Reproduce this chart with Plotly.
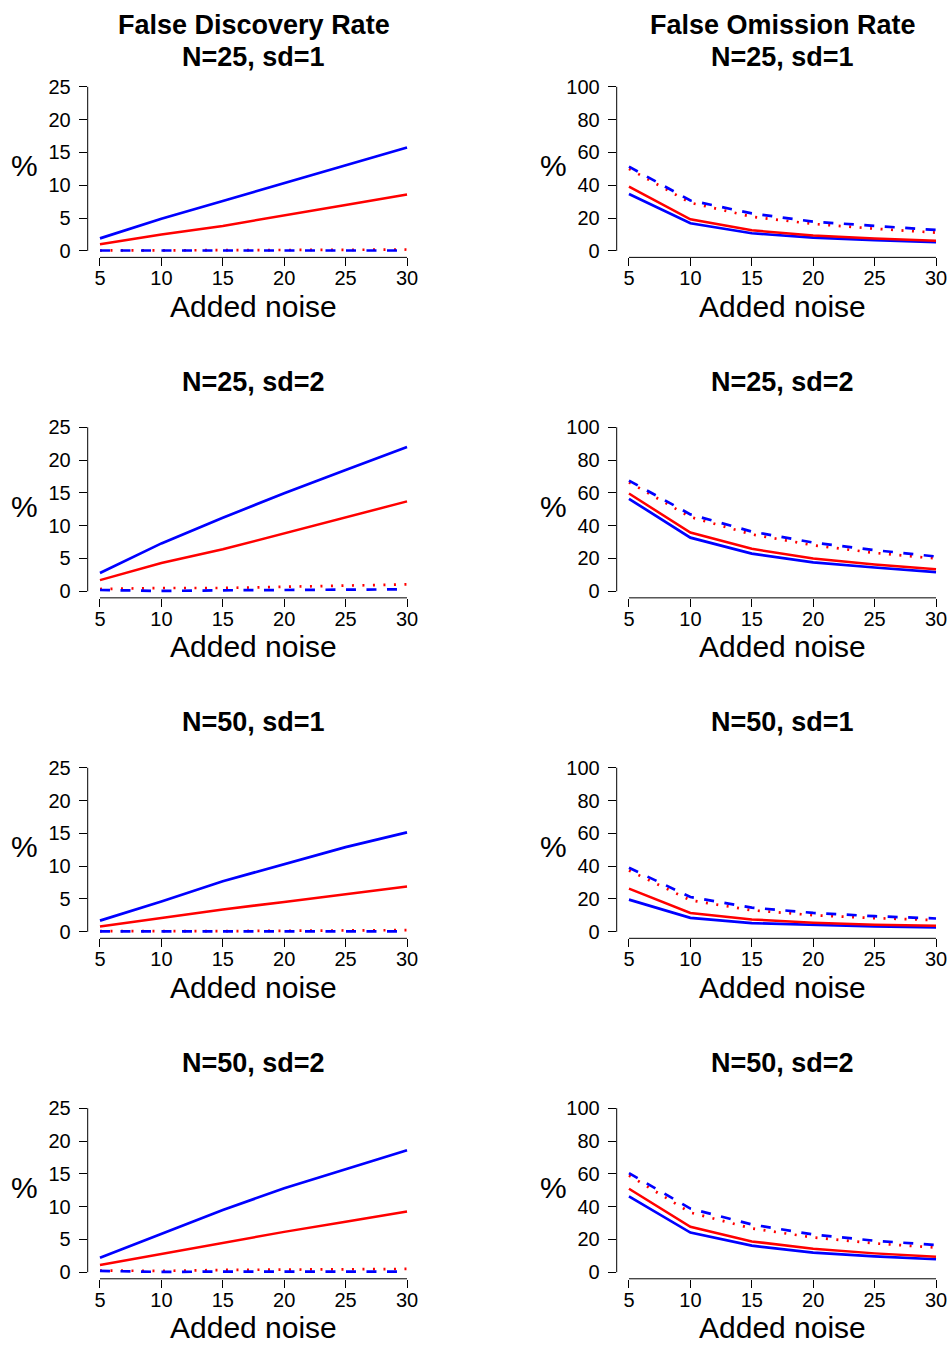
import plotly.graph_objects as go

W, H = 950, 1349

noise = [5, 10, 15, 20, 25, 30]
x_ticks = [5, 10, 15, 20, 25, 30]
fdr_ticks = [0, 5, 10, 15, 20, 25]
for_ticks = [0, 20, 40, 60, 80, 100]

row_titles = ["N=25, sd=1", "N=25, sd=2", "N=50, sd=1", "N=50, sd=2"]
col_titles = ["False Discovery Rate", "False Omission Rate"]

# False Discovery Rate (%) per scenario
fdr_blue_solid = [
    [1.9, 4.9, 7.6, 10.35, 13.0, 15.75],
    [2.8, 7.3, 11.2, 14.95, 18.5, 22.0],
    [1.7, 4.6, 7.7, 10.35, 12.9, 15.15],
    [2.2, 5.9, 9.5, 12.8, 15.75, 18.6],
]
fdr_red_solid = [
    [1.0, 2.5, 3.8, 5.45, 7.0, 8.6],
    [1.7, 4.3, 6.4, 8.8, 11.3, 13.7],
    [0.8, 2.1, 3.4, 4.55, 5.75, 6.9],
    [1.1, 2.8, 4.5, 6.15, 7.7, 9.25],
]
fdr_blue_dashed = [
    [0.05, 0.05, 0.05, 0.05, 0.05, 0.05],
    [0.2, 0.05, 0.15, 0.25, 0.25, 0.3],
    [0.05, 0.0, 0.05, 0.05, 0.05, 0.05],
    [0.2, 0.05, 0.1, 0.1, 0.1, 0.1],
]
fdr_red_dotted = [
    [0.05, 0.05, 0.1, 0.1, 0.15, 0.2],
    [0.35, 0.5, 0.5, 0.7, 0.8, 1.05],
    [0.1, 0.05, 0.1, 0.15, 0.2, 0.25],
    [0.25, 0.2, 0.35, 0.4, 0.45, 0.5],
]

# False Omission Rate (%) per scenario
for_blue_solid = [
    [34.7, 16.8, 10.7, 8.1, 6.5, 5.3],
    [56.4, 32.7, 23.0, 17.6, 14.5, 11.7],
    [19.6, 8.5, 5.25, 4.0, 3.2, 2.6],
    [46.3, 24.2, 16.2, 11.9, 9.7, 7.9],
]
for_red_solid = [
    [39.2, 19.2, 12.5, 9.3, 7.5, 6.1],
    [59.6, 35.8, 25.9, 20.0, 16.4, 13.5],
    [26.3, 11.5, 7.5, 5.5, 4.2, 3.6],
    [50.9, 27.7, 18.8, 14.3, 11.5, 9.5],
]
for_blue_dashed = [
    [51.3, 30.7, 22.8, 17.8, 15.2, 12.7],
    [67.5, 46.9, 36.4, 29.7, 25.1, 21.2],
    [39.0, 21.2, 14.7, 11.5, 9.5, 8.1],
    [60.4, 38.8, 29.1, 23.0, 19.2, 16.6],
]
for_red_dotted = [
    [50.0, 29.3, 20.8, 16.4, 13.5, 11.1],
    [66.5, 45.3, 34.7, 28.1, 23.4, 20.0],
    [37.4, 19.2, 13.1, 10.1, 8.3, 7.1],
    [59.0, 36.4, 26.7, 21.2, 17.6, 15.0],
]

FONT = "Liberation Sans, Arial, sans-serif"
BLUE = "#0000FF"
RED = "#FF0000"

# layout geometry in pixels
col_left = [87.7, 616.7]
col_right = [419.3, 948.3]
row_step = 342.5
reg_top0 = 76.7
reg_bot0 = 254.9
ANN_DY = -3


def px(xp):
    return xp / W


def py(yp):
    return 1 - yp / H


fig = go.Figure()
layout_axes = {}
annotations = []
shapes = []

panels = []
for r in range(4):
    for c in range(2):
        panels.append((r, c))

for i, (r, c) in enumerate(panels):
    n = i + 1
    xa = "x" if n == 1 else f"x{n}"
    ya = "y" if n == 1 else f"y{n}"
    xkey = "xaxis" if n == 1 else f"xaxis{n}"
    ykey = "yaxis" if n == 1 else f"yaxis{n}"

    if c == 0:
        series = [
            (fdr_blue_solid[r], BLUE, "solid", 2.7),
            (fdr_red_solid[r], RED, "solid", 2.5),
            (fdr_red_dotted[r], RED, "2px,8.5px", 2.7),
            (fdr_blue_dashed[r], BLUE, "10px,10.5px", 2.7),
        ]
        yr = [-1, 26]
        yt = fdr_ticks
        ytop = 25
    else:
        series = [
            (for_blue_solid[r], BLUE, "solid", 2.7),
            (for_red_solid[r], RED, "solid", 2.5),
            (for_red_dotted[r], RED, "2px,8.5px", 2.7),
            (for_blue_dashed[r], BLUE, "10px,10.5px", 2.7),
        ]
        yr = [-4, 104]
        yt = for_ticks
        ytop = 100

    for vals, col, dash, w in series:
        fig.add_trace(go.Scatter(
            x=noise, y=vals, mode="lines", xaxis=xa, yaxis=ya,
            line=dict(color=col, dash=dash, width=w),
            showlegend=False, hoverinfo="skip",
        ))

    top = reg_top0 + row_step * r
    bot = reg_bot0 + row_step * r
    layout_axes[xkey] = dict(
        domain=[px(col_left[c]), px(col_right[c])],
        range=[4, 31], anchor=ya,
        tickvals=x_ticks, ticktext=[str(v) for v in x_ticks],
        ticks="outside", ticklen=8, tickwidth=1, tickcolor="black",
        ticklabelstandoff=-5,
        showline=False, showgrid=False, zeroline=False,
        tickfont=dict(family=FONT, size=20, color="black"),
        fixedrange=True,
    )
    layout_axes[ykey] = dict(
        domain=[py(bot), py(top)],
        range=yr, anchor=xa,
        tickvals=yt, ticktext=[str(v) for v in yt],
        ticks="outside", ticklen=8, tickwidth=1, tickcolor="black",
        ticklabelstandoff=4,
        showline=False, showgrid=False, zeroline=False,
        tickfont=dict(family=FONT, size=20, color="black"),
        fixedrange=True,
    )
    # axis lines spanning only the tick range (base R style)
    shapes.append(dict(type="line", xref=xa, yref=f"{ya} domain",
                       x0=x_ticks[0], x1=x_ticks[-1], y0=0, y1=0,
                       line=dict(color="black", width=1)))
    shapes.append(dict(type="line", xref=f"{xa} domain", yref=ya,
                       x0=0, x1=0, y0=yt[0], y1=ytop,
                       line=dict(color="black", width=1)))

    cx = (col_left[c] + col_right[c]) / 2
    # panel title
    if r == 0:
        annotations.append(dict(text=f"<b>{col_titles[c]}</b>", x=px(cx), y=py(24 + ANN_DY),
                                xref="paper", yref="paper", showarrow=False,
                                xanchor="center", yanchor="middle",
                                font=dict(family=FONT, size=27, color="black")))
        annotations.append(dict(text=f"<b>{row_titles[r]}</b>", x=px(cx), y=py(56 + ANN_DY),
                                xref="paper", yref="paper", showarrow=False,
                                xanchor="center", yanchor="middle",
                                font=dict(family=FONT, size=27, color="black")))
    else:
        annotations.append(dict(text=f"<b>{row_titles[r]}</b>",
                                x=px(cx), y=py(383 + row_step * (r - 1) + ANN_DY),
                                xref="paper", yref="paper", showarrow=False,
                                xanchor="center", yanchor="middle",
                                font=dict(family=FONT, size=27, color="black")))
    # x label
    annotations.append(dict(text="Added noise", x=px(cx), y=py(307 + row_step * r + ANN_DY),
                            xref="paper", yref="paper", showarrow=False,
                            xanchor="center", yanchor="middle",
                            font=dict(family=FONT, size=30, color="black")))
    # y label
    annotations.append(dict(text="%", x=px(col_left[c] - 63), y=py((top + bot) / 2 + ANN_DY),
                            xref="paper", yref="paper", showarrow=False,
                            xanchor="center", yanchor="middle",
                            font=dict(family=FONT, size=30, color="black")))

fig.update_layout(
    width=W, height=H,
    margin=dict(l=0, r=0, t=0, b=0),
    paper_bgcolor="white", plot_bgcolor="white",
    showlegend=False,
    annotations=annotations,
    shapes=shapes,
    **layout_axes,
)

fig.write_html(
    "out.html",
    config={"displayModeBar": False, "staticPlot": True},
    post_script=(
        "document.documentElement.style.margin='0';"
        "document.documentElement.style.padding='0';"
        "document.documentElement.style.overflow='hidden';"
        "document.documentElement.style.height='1349px';"
        "document.body.style.margin='0';"
        "document.body.style.padding='0';"
        "document.body.style.overflow='hidden';"
        "document.body.style.height='1349px';"
    ),
)
